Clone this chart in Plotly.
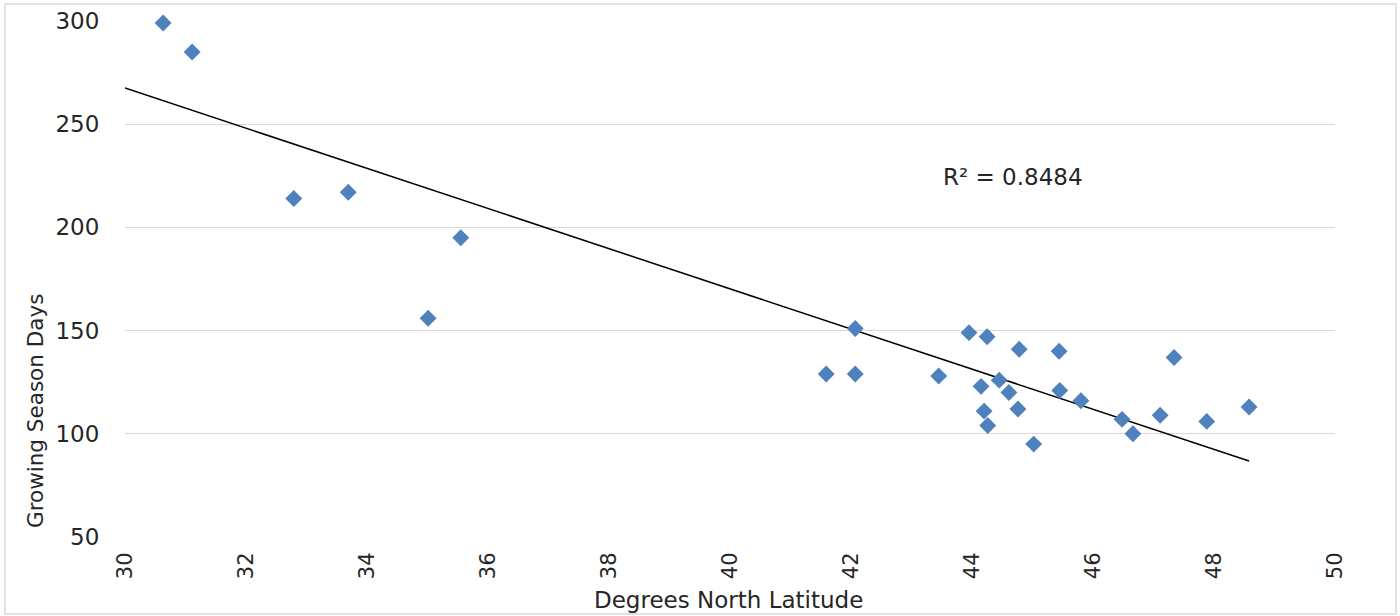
import plotly.graph_objects as go

# Data
latitude = [30.63, 31.11, 32.79, 33.69, 35.01, 35.55, 41.59, 42.07, 42.07, 43.45,
            43.95, 44.25, 44.15, 44.20, 44.26, 44.45, 44.61, 44.76, 44.78, 45.02,
            45.44, 45.45, 45.80, 46.48, 46.66, 47.11, 47.34, 47.88, 48.58]
growing_days = [299, 285, 214, 217, 156, 195, 129, 151, 129, 128,
                149, 147, 123, 111, 104, 126, 120, 112, 141, 95,
                140, 121, 116, 107, 100, 109, 137, 106, 113]
# Linear trendline as drawn in the reference (its end points)
trend_latitude = [30.0, 48.58]
trend_days = [267.5, 86.8]
r2_label = "R² = 0.8484"
x_title = "Degrees North Latitude"
y_title = "Growing Season Days"
x_ticks = [30, 32, 34, 36, 38, 40, 42, 44, 46, 48, 50]
y_ticks = [50, 100, 150, 200, 250, 300]

# Layout geometry (page pixels; page body margin removed by post_script)
W, H = 1400, 616
PL, PR, PT, PB = 125, 1335, 21, 537      # plot area in page pixels
pw, ph = PR - PL, PB - PT
L, T = PL, PT
R = W - L - pw
B = H - T - ph

def px(xp):
    return (xp - PL) / pw

def py(yp):
    return (PB - yp) / ph

FONT = "DejaVu Sans, Verdana, sans-serif"
TXT = "#262626"

fig = go.Figure()
fig.add_trace(go.Scatter(x=trend_latitude, y=trend_days, mode="lines",
                         line=dict(color="black", width=1.5),
                         hoverinfo="skip", showlegend=False))
fig.add_trace(go.Scatter(x=latitude, y=growing_days, mode="markers",
                         cliponaxis=False,
                         marker=dict(symbol="diamond", size=13, color="#4F81BD",
                                     line=dict(width=0)),
                         showlegend=False))

fig.update_layout(
    width=W, height=H,
    margin=dict(l=L, r=R, t=T, b=B, autoexpand=False),
    paper_bgcolor="white", plot_bgcolor="white",
    font=dict(family=FONT, size=22, color=TXT),
    xaxis=dict(range=[30, 50], tickvals=x_ticks, tickangle=-90,
               showgrid=False, zeroline=False, showline=False,
               ticks="outside", ticklen=6, tickcolor="rgba(0,0,0,0)",
               tickfont=dict(size=21, color=TXT), automargin=False),
    yaxis=dict(range=[50, 300], tickvals=y_ticks,
               showgrid=True, gridcolor="#d9d9d9", gridwidth=1,
               zeroline=False, showline=False,
               ticks="outside", ticklen=20, tickcolor="rgba(0,0,0,0)",
               tickfont=dict(size=23, color=TXT), automargin=False),
    annotations=[
        dict(text=x_title, xref="paper", yref="paper", x=px(728), y=py(600),
             xanchor="center", yanchor="middle", showarrow=False,
             font=dict(size=23, color=TXT, family=FONT)),
        dict(text=y_title, xref="paper", yref="paper", x=px(35), y=py(411),
             xanchor="center", yanchor="middle", showarrow=False, textangle=-90,
             font=dict(size=21.5, color=TXT, family=FONT)),
        dict(text=r2_label, xref="paper", yref="paper", x=px(1013), y=py(177),
             xanchor="center", yanchor="middle", showarrow=False,
             font=dict(size=23, color=TXT, family=FONT)),
    ],
    shapes=[
        dict(type="rect", xref="paper", yref="paper",
             x0=px(5), x1=px(1396), y0=py(614), y1=py(4),
             line=dict(color="#d9d9d9", width=1.5), fillcolor="rgba(0,0,0,0)",
             layer="below"),
    ],
)

fig.write_html(
    "out.html",
    config={"displayModeBar": False},
    post_script="document.body.style.margin='0';document.body.style.overflow='hidden';",
)
